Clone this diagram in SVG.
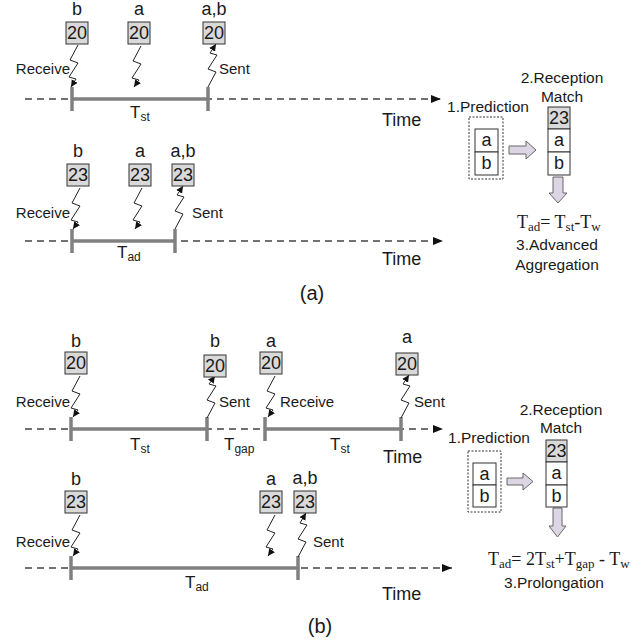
<svg xmlns="http://www.w3.org/2000/svg" width="642" height="641" viewBox="0 0 642 641">
<defs>
<marker id="tarr" markerUnits="userSpaceOnUse" markerWidth="11" markerHeight="9" refX="10" refY="4" orient="auto"><path d="M0,0 L10,4 L0,8 z" fill="#111"/></marker>
<marker id="barr" markerUnits="userSpaceOnUse" markerWidth="8" markerHeight="8" refX="7" refY="3.5" orient="auto"><path d="M0,0 L7,3.5 L0,7 z" fill="#111"/></marker>
<style>
text{font-family:"Liberation Sans",Arial,sans-serif;fill:#1a1a1a}
.lbl{font-size:18px;text-anchor:middle}
.num{font-size:18px;text-anchor:middle}
.sm{font-size:15px}
.big{font-size:17px}
.sub{font-size:12px}
.time{font-size:18px}
.cap{font-size:20px;text-anchor:middle}
.rt{font-size:15.5px;text-anchor:middle}
.ser{font-family:"Liberation Serif","Times New Roman",serif;font-size:18px}
.ser .s{font-size:13px}
.pkt{fill:#d9d9d9;stroke:#333;stroke-width:1}
.cell{fill:#fff;stroke:#333;stroke-width:1}
.dash{stroke:#444;stroke-width:1.3;stroke-dasharray:7,5;fill:none}
.bar{stroke:#808080;stroke-width:3.5;fill:none}
.tick{stroke:#808080;stroke-width:3.5}
.bolt{stroke:#222;stroke-width:1;fill:none;marker-end:url(#barr)}
.hol{fill:#dcd6e4;stroke:#666;stroke-width:1}
.pred{fill:none;stroke:#333;stroke-width:1;stroke-dasharray:2,1.5}
</style>
</defs>
<rect width="642" height="641" fill="#fff"/>

<g id="timelines">
  <line class="dash" x1="25" y1="99" x2="441" y2="99" marker-end="url(#tarr)"/>
  <line class="bar" x1="72" y1="99" x2="208" y2="99"/>
  <line class="tick" x1="72" y1="87" x2="72" y2="111"/>
  <line class="tick" x1="208" y1="87" x2="208" y2="111"/>

  <line class="dash" x1="25" y1="241" x2="443" y2="241" marker-end="url(#tarr)"/>
  <line class="bar" x1="72" y1="241" x2="175" y2="241"/>
  <line class="tick" x1="72" y1="229" x2="72" y2="253"/>
  <line class="tick" x1="175" y1="229" x2="175" y2="253"/>

  <line class="dash" x1="25" y1="429" x2="443" y2="429" marker-end="url(#tarr)"/>
  <line class="bar" x1="71" y1="429" x2="207" y2="429"/>
  <line class="bar" x1="265" y1="429" x2="401" y2="429"/>
  <line class="tick" x1="71" y1="417" x2="71" y2="441"/>
  <line class="tick" x1="207" y1="417" x2="207" y2="441"/>
  <line class="tick" x1="265" y1="417" x2="265" y2="441"/>
  <line class="tick" x1="401" y1="417" x2="401" y2="441"/>

  <line class="dash" x1="25" y1="568" x2="452" y2="568" marker-end="url(#tarr)"/>
  <line class="bar" x1="71" y1="568" x2="298" y2="568"/>
  <line class="tick" x1="71" y1="556" x2="71" y2="580"/>
  <line class="tick" x1="298" y1="556" x2="298" y2="580"/>
</g>

<g id="connectors">
  <!-- (a) top -->
  <polyline class="bolt" points="78,45 70,60 78,63 69,77 76,79 71,87"/>
  <polyline class="bolt" points="141,46 133,61 141,64 132,78 139,80 134,87"/>
  <polyline class="bolt" points="208,87 216,72 208,69 217,55 210,53 216,44"/>
  <!-- (a) bottom -->
  <polyline class="bolt" points="80,188 72,203 80,206 71,220 78,222 73,229"/>
  <polyline class="bolt" points="142,188 134,203 142,206 133,220 140,222 135,229"/>
  <polyline class="bolt" points="175,229 183,214 175,211 184,197 177,195 183,186"/>
  <!-- (b) top -->
  <polyline class="bolt" points="80,376 72,391 80,394 71,408 78,410 73,417"/>
  <polyline class="bolt" points="207,418 215,403 207,400 216,386 209,384 215,376"/>
  <polyline class="bolt" points="275,376 267,391 275,394 266,408 273,410 268,417"/>
  <polyline class="bolt" points="401,418 409,403 401,400 410,386 403,384 409,375"/>
  <!-- (b) bottom -->
  <polyline class="bolt" points="80,515 72,530 80,533 71,547 78,549 73,556"/>
  <polyline class="bolt" points="275,515 267,530 275,533 266,547 273,549 268,556"/>
  <polyline class="bolt" points="298,557 306,542 298,539 307,525 300,523 306,513"/>
  <!-- hollow arrows -->
  <polygon class="hol" points="509,146 526,146 526,141 536,150 526,159 526,154 509,154"/>
  <polygon class="hol" points="553,177 563,177 563,193 567,193 558,203 549,193 553,193"/>
  <polygon class="hol" points="507,478 523,478 523,473 533,481.5 523,490 523,485 507,485"/>
  <polygon class="hol" points="553,508 562,508 562,526 566,526 557.5,537 549,526 553,526"/>
</g>

<!-- (a) top packets -->
<g id="a1-b"><text class="lbl" x="77" y="15">b</text><rect class="pkt" x="66" y="22" width="22" height="22"/><text class="num" x="77" y="39">20</text></g>
<g id="a1-a"><text class="lbl" x="139" y="15">a</text><rect class="pkt" x="128" y="22" width="22" height="22"/><text class="num" x="139" y="39">20</text></g>
<g id="a1-ab"><text class="lbl" x="214" y="15">a,b</text><rect class="pkt" x="203" y="22" width="22" height="22"/><text class="num" x="214" y="39">20</text></g>
<g id="a1-text">
  <text class="sm" x="70" y="74" text-anchor="end">Receive</text>
  <text class="sm" x="219" y="74">Sent</text>
  <text class="big" x="130" y="118">T<tspan class="sub" dy="3">st</tspan></text>
  <text class="time" x="382" y="126">Time</text>
</g>

<!-- (a) bottom packets -->
<g id="a2-b"><text class="lbl" x="78" y="157">b</text><rect class="pkt" x="67" y="164" width="22" height="22"/><text class="num" x="78" y="181">23</text></g>
<g id="a2-a"><text class="lbl" x="140" y="157">a</text><rect class="pkt" x="129" y="164" width="22" height="22"/><text class="num" x="140" y="181">23</text></g>
<g id="a2-ab"><text class="lbl" x="183" y="157">a,b</text><rect class="pkt" x="172" y="164" width="22" height="22"/><text class="num" x="183" y="181">23</text></g>
<g id="a2-text">
  <text class="sm" x="70" y="218" text-anchor="end">Receive</text>
  <text class="sm" x="192" y="218">Sent</text>
  <text class="big" x="117" y="258">T<tspan class="sub" dy="3">ad</tspan></text>
  <text class="time" x="382" y="265">Time</text>
</g>

<!-- (a) right -->
<g id="a-prediction">
  <text class="rt" x="488" y="112">1.Prediction</text>
  <rect class="pred" x="469" y="117" width="34" height="62"/>
  <rect class="cell" x="475" y="129" width="23" height="23"/><text class="num" x="486.5" y="146">a</text>
  <rect class="cell" x="475" y="152" width="23" height="23"/><text class="num" x="486.5" y="169">b</text>
</g>
<g id="a-match">
  <text class="rt" x="562" y="83">2.Reception</text>
  <text class="rt" x="562" y="102">Match</text>
  <rect class="pkt" x="548" y="107" width="22" height="22"/><text class="num" x="559" y="124">23</text>
  <rect class="cell" x="548" y="129" width="22" height="23"/><text class="num" x="559" y="146">a</text>
  <rect class="cell" x="548" y="152" width="22" height="23"/><text class="num" x="559" y="169">b</text>
</g>
<g id="a-aggregation">
  <text class="ser" x="517" y="228">T<tspan class="s" dy="3">ad</tspan><tspan dy="-3">= T</tspan><tspan class="s" dy="3">st</tspan><tspan dy="-3">-T</tspan><tspan class="s" dy="3">w</tspan></text>
  <text class="rt" x="557" y="250">3.Advanced</text>
  <text class="rt" x="557" y="270">Aggregation</text>
</g>
<text class="cap" x="312" y="300">(a)</text>

<!-- (b) top packets -->
<g id="b1-b"><text class="lbl" x="76" y="347">b</text><rect class="pkt" x="65" y="352" width="22" height="22"/><text class="num" x="76" y="369">20</text></g>
<g id="b1-b2"><text class="lbl" x="215" y="347">b</text><rect class="pkt" x="204" y="355" width="22" height="22"/><text class="num" x="215" y="372">20</text></g>
<g id="b1-a"><text class="lbl" x="271" y="347">a</text><rect class="pkt" x="260" y="352" width="22" height="22"/><text class="num" x="271" y="369">20</text></g>
<g id="b1-a2"><text class="lbl" x="407" y="343">a</text><rect class="pkt" x="396" y="353" width="22" height="22"/><text class="num" x="407" y="370">20</text></g>
<g id="b1-text">
  <text class="sm" x="70" y="407" text-anchor="end">Receive</text>
  <text class="sm" x="219" y="407">Sent</text>
  <text class="sm" x="280" y="407">Receive</text>
  <text class="sm" x="414" y="407">Sent</text>
  <text class="big" x="130" y="450">T<tspan class="sub" dy="3">st</tspan></text>
  <text class="big" x="224" y="450">T<tspan class="sub" dy="3">gap</tspan></text>
  <text class="big" x="330" y="450">T<tspan class="sub" dy="3">st</tspan></text>
  <text class="time" x="383" y="463">Time</text>
</g>

<!-- (b) bottom packets -->
<g id="b2-b"><text class="lbl" x="76" y="485">b</text><rect class="pkt" x="65" y="491" width="22" height="22"/><text class="num" x="76" y="508">23</text></g>
<g id="b2-a"><text class="lbl" x="271" y="485">a</text><rect class="pkt" x="260" y="491" width="22" height="22"/><text class="num" x="271" y="508">23</text></g>
<g id="b2-ab"><text class="lbl" x="305" y="484">a,b</text><rect class="pkt" x="294" y="491" width="22" height="22"/><text class="num" x="305" y="508">23</text></g>
<g id="b2-text">
  <text class="sm" x="70" y="547" text-anchor="end">Receive</text>
  <text class="sm" x="313" y="547">Sent</text>
  <text class="big" x="185" y="588">T<tspan class="sub" dy="3">ad</tspan></text>
  <text class="time" x="382" y="600">Time</text>
</g>

<!-- (b) right -->
<g id="b-prediction">
  <text class="rt" x="489" y="443">1.Prediction</text>
  <rect class="pred" x="468" y="451" width="33" height="61"/>
  <rect class="cell" x="473" y="463" width="23" height="22"/><text class="num" x="484.5" y="480">a</text>
  <rect class="cell" x="473" y="485" width="23" height="22"/><text class="num" x="484.5" y="502">b</text>
</g>
<g id="b-match">
  <text class="rt" x="561" y="415">2.Reception</text>
  <text class="rt" x="561" y="433">Match</text>
  <rect class="pkt" x="546" y="440" width="21" height="22"/><text class="num" x="556.5" y="457">23</text>
  <rect class="cell" x="546" y="462" width="21" height="23"/><text class="num" x="556.5" y="479">a</text>
  <rect class="cell" x="546" y="485" width="21" height="22"/><text class="num" x="556.5" y="502">b</text>
</g>
<g id="b-prolongation">
  <text class="ser" x="488" y="565">T<tspan class="s" dy="3">ad</tspan><tspan dy="-3">= 2T</tspan><tspan class="s" dy="3">st</tspan><tspan dy="-3">+T</tspan><tspan class="s" dy="3">gap</tspan><tspan dy="-3"> - T</tspan><tspan class="s" dy="3">w</tspan></text>
  <text class="rt" x="554" y="588">3.Prolongation</text>
</g>
<text class="cap" x="320" y="633">(b)</text>
</svg>
